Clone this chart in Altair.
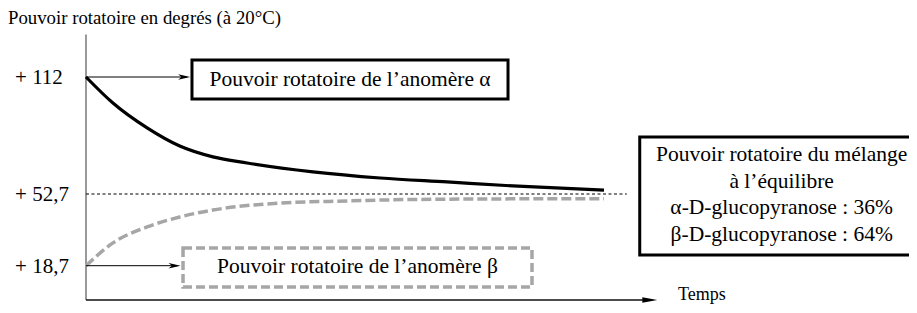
import altair as alt
import pandas as pd

# ---- data -------------------------------------------------------------
time_alpha = [0, 5.2, 11.8, 18.1, 24.5, 31.1, 43.8, 56.8, 69.7, 82.4, 100]
power_alpha = [112, 98.8, 86.2, 77.0, 71.5, 68.4, 63.9, 60.8, 58.8, 56.8, 54.7]

time_beta = [0, 5.2, 11.8, 18.1, 24.5, 37.5, 50.4, 63.1, 82.4, 100]
power_beta = [18.7, 29.5, 37.1, 41.8, 45.1, 48.4, 49.4, 50.1, 50.4, 50.5]

equilibrium_value = 52.7
tick_values = [112, 52.7, 18.7]
tick_labels = ["+ 112", "+ 52,7", "+ 18,7"]

y_title = "Pouvoir rotatoire en degrés (à 20°C)"
x_title = "Temps"
alpha_label = "Pouvoir rotatoire de l’anomère α"
beta_label = "Pouvoir rotatoire de l’anomère β"
mix_lines = ["Pouvoir rotatoire du mélange", "à l’équilibre",
             "α-D-glucopyranose : 36%", "β-D-glucopyranose : 64%"]

# ---- scales ------------------------------------------------------------
FONT = "Times New Roman, Liberation Serif, serif"
xs = alt.Scale(domain=[0, 100], range=[78, 596], zero=False, nice=False)
ys = alt.Scale(domain=[18.7, 52.7, 112], range=[257.7, 186, 69], zero=False, nice=False)

def X(f="t"):
    return alt.X(f"{f}:Q", scale=xs, axis=None)

def Y(f="v"):
    return alt.Y(f"{f}:Q", scale=ys, axis=None)

def X2(f="t2"):
    return alt.X2(f"{f}:Q")

def Y2(f="v2"):
    return alt.Y2(f"{f}:Q")

y_low, y_high = 2.44, 133.5

# axes
y_axis = alt.Chart(pd.DataFrame({"t": [0], "v": [y_low], "v2": [y_high]})).mark_rule(
    color="#808080", strokeWidth=1.6).encode(x=X(), y=Y(), y2=Y2())
x_axis = alt.Chart(pd.DataFrame({"t": [0], "t2": [107.5], "v": [y_low]})).mark_rule(
    color="#111111", strokeWidth=1.6).encode(x=X(), x2=X2(), y=Y())
x_head = alt.Chart(pd.DataFrame({"t": [108.85], "v": [y_low]})).mark_point(
    shape="M-1,-0.38L1,0L-1,0.38Z", size=225, filled=True, color="black", opacity=1
).encode(x=X(), y=Y())

# equilibrium line
eq_line = alt.Chart(pd.DataFrame({"t": [0], "t2": [104.4], "v": [equilibrium_value]})).mark_rule(
    color="black", strokeWidth=1, strokeDash=[3, 2.5]).encode(x=X(), x2=X2(), y=Y())

# curves
alpha_curve = alt.Chart(pd.DataFrame({"t": time_alpha, "v": power_alpha})).mark_line(
    color="black", strokeWidth=3.2, interpolate="monotone").encode(x=X(), y=Y())
beta_curve = alt.Chart(pd.DataFrame({"t": time_beta, "v": power_beta})).mark_line(
    color="#a6a6a6", strokeWidth=3.5, strokeDash=[10, 4], interpolate="monotone").encode(x=X(), y=Y())

# arrows to the boxes
arrows = alt.Chart(pd.DataFrame({"t": [0, 0], "t2": [19.5, 17.6], "v": [112, 18.7]})).mark_rule(
    color="black", strokeWidth=1).encode(x=X(), x2=X2(), y=Y())
heads = alt.Chart(pd.DataFrame({"t": [18.95, 17.1], "v": [112, 18.7]})).mark_point(
    shape="M-1,-0.45L1,0L-1,0.45L-0.45,0Z", size=144, filled=True, color="black", opacity=1
).encode(x=X(), y=Y())

# boxes
box_alpha = alt.Chart(pd.DataFrame({"t": [20.46], "t2": [81.47], "v": [120.6], "v2": [100.85]})).mark_rect(
    fill="white", stroke="black", strokeWidth=3).encode(x=X(), x2=X2(), y=Y(), y2=Y2())
box_beta = alt.Chart(pd.DataFrame({"t": [18.73], "t2": [86.1], "v": [27.1], "v2": [8.6]})).mark_rect(
    fill="white", stroke="#a6a6a6", strokeWidth=3.5, strokeDash=[9, 4]).encode(x=X(), x2=X2(), y=Y(), y2=Y2())
box_mix = alt.Chart(pd.DataFrame({"t": [106.9], "t2": [162], "v": [81.6], "v2": [23.8]})).mark_rect(
    fill="white", stroke="black", strokeWidth=3).encode(x=X(), x2=X2(), y=Y(), y2=Y2())

# texts
title_txt = alt.Chart(pd.DataFrame({"t": [-15.06], "v": [142.0], "label": [y_title]})).mark_text(
    font=FONT, fontSize=18.8, align="left", baseline="middle", color="black").encode(x=X(), y=Y(), text="label:N")
ticks_txt = alt.Chart(pd.DataFrame({"t": [-13.7] * 3, "v": tick_values, "label": tick_labels})).mark_text(
    font=FONT, fontSize=21, align="left", baseline="middle", color="black", dy=1).encode(x=X(), y=Y(), text="label:N")
temps_txt = alt.Chart(pd.DataFrame({"t": [114.3], "v": [y_low], "label": [x_title]})).mark_text(
    font=FONT, fontSize=18, align="left", baseline="middle", color="black", dy=-5).encode(x=X(), y=Y(), text="label:N")
box_txt = alt.Chart(pd.DataFrame({"t": [50.97, 52.4], "v": [110.7, 17.85],
                                  "label": [alpha_label, beta_label]})).mark_text(
    font=FONT, fontSize=21.5, align="center", baseline="middle", color="black").encode(x=X(), y=Y(), text="label:N")
mix_txt = alt.Chart(pd.DataFrame({"t": [134.3] * 4, "v": [72.5, 58.8, 46.1, 33.3],
                                  "label": mix_lines})).mark_text(
    font=FONT, fontSize=21.5, align="center", baseline="middle", color="black").encode(x=X(), y=Y(), text="label:N")

chart = alt.layer(
    y_axis, x_axis, x_head, eq_line, beta_curve, alpha_curve, arrows, heads,
    box_alpha, box_beta, box_mix, title_txt, ticks_txt, temps_txt, box_txt, mix_txt
).properties(
    width=901, height=297, padding=0,
    autosize=alt.AutoSizeParams(type="none"),
).configure_view(stroke=None)

chart.save("out.html", embed_options={"renderer": "svg", "actions": False})
